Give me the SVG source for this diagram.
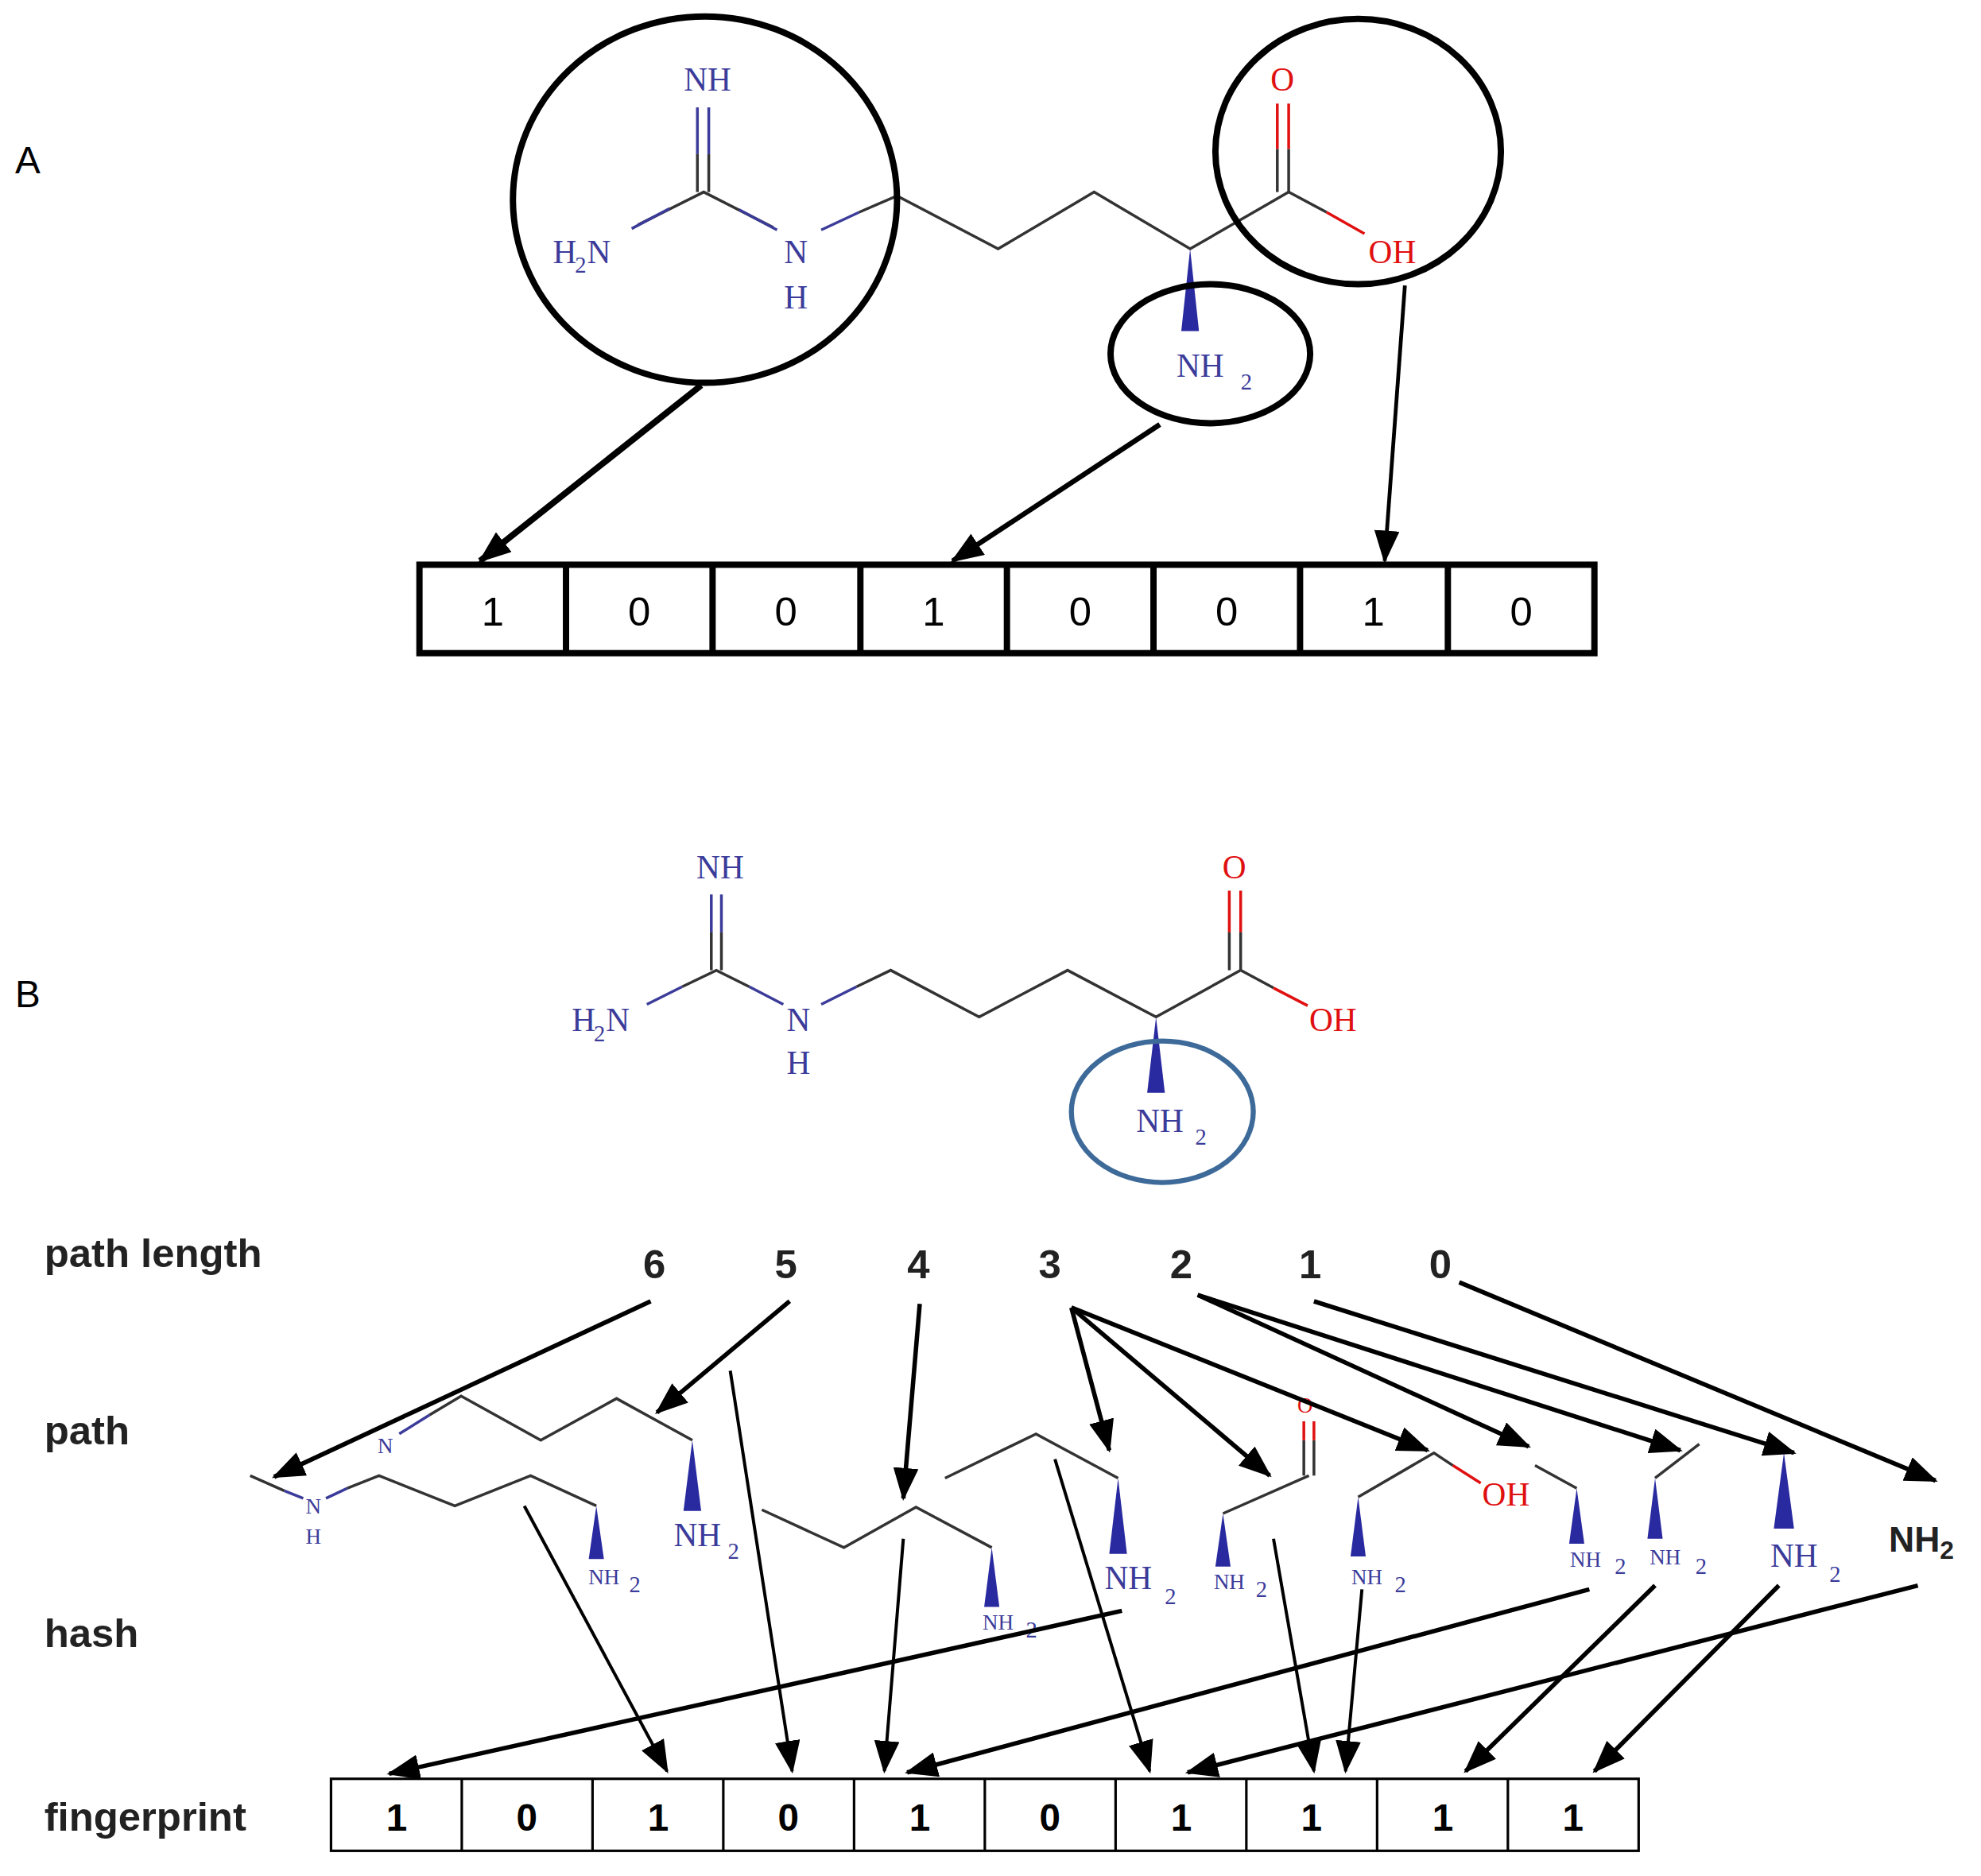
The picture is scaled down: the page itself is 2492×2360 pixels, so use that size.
<svg xmlns="http://www.w3.org/2000/svg" width="2492" height="2360" viewBox="0 0 2492 2360">
<defs>
<marker id="ah" markerUnits="userSpaceOnUse" markerWidth="26" markerHeight="20" refX="24" refY="10" orient="auto"><path d="M0,0 L26,10 L0,20 Z" fill="#000"/></marker>
</defs>
<style>
.b{stroke:#333;stroke-width:2.2;fill:none}
.bb{stroke:#3b3b9a;stroke-width:2.2;fill:none}
.br{stroke:#e01010;stroke-width:2.2;fill:none}
.w{fill:#2a2aa0}
.m{font-family:"Liberation Serif",serif;font-size:26px;fill:#3b3b9a;text-anchor:middle}
.ms{font-family:"Liberation Serif",serif;font-size:18px;fill:#3b3b9a}
.r{fill:#e01010}
.sm{font-size:17px}
.lab{font-family:"Liberation Sans",sans-serif;font-size:32px;font-weight:bold;fill:#222}
.cellA{font-family:"Liberation Sans",sans-serif;font-size:32px;fill:#000;text-anchor:middle}
.cellB{font-family:"Liberation Sans",sans-serif;font-size:30px;font-weight:bold;fill:#000;text-anchor:middle}
.a{stroke:#000;fill:none;marker-end:url(#ah)}
.c{stroke:#000;stroke-width:5;fill:none}
</style>
<g transform="scale(1.5893)">
<text x="12" y="137" font-family="Liberation Sans,sans-serif" font-size="30">A</text>
<text x="12" y="797" font-family="Liberation Sans,sans-serif" font-size="30">B</text>

<g id="molA">
<line class="bb" x1="552" y1="85" x2="552" y2="122"/><line class="bb" x1="561" y1="85" x2="561" y2="122"/>
<line class="b" x1="552" y1="122" x2="552" y2="152"/><line class="b" x1="561" y1="122" x2="561" y2="152"/>
<polyline class="b" points="505,178 557,152 612,180"/>
<line class="bb" x1="500" y1="181" x2="530" y2="165"/><line class="bb" x1="585" y1="166" x2="615" y2="182"/>
<polyline class="bb" points="650,182 680,168"/>
<polyline class="b" points="680,168 710,155 790,197 866,152 942,197 1020,152"/>
<line class="br" x1="1011" y1="82" x2="1011" y2="118"/><line class="br" x1="1020" y1="82" x2="1020" y2="118"/>
<line class="b" x1="1011" y1="118" x2="1011" y2="152"/><line class="b" x1="1020" y1="118" x2="1020" y2="152"/>
<line class="b" x1="1020" y1="152" x2="1050" y2="168"/><line class="br" x1="1050" y1="168" x2="1080" y2="185"/>
<polygon class="w" points="942,197 935,262 949,262"/>
<text class="m" x="560" y="72">NH</text>
<text class="m" x="447" y="208">H</text><text class="ms" x="455" y="216">2</text><text class="m" x="474" y="208">N</text>
<text class="m" x="630" y="208">N</text><text class="m" x="630" y="244">H</text>
<text class="m r" x="1015" y="72">O</text>
<text class="m r" x="1102" y="208">OH</text>
<text class="m" x="950" y="298">NH</text><text class="ms" x="982" y="308">2</text>
</g>
<g id="circles">
<ellipse class="c" cx="558" cy="158" rx="152" ry="145"/>
<ellipse class="c" cx="958" cy="280" rx="79" ry="55"/>
<ellipse class="c" cx="1075" cy="120" rx="113" ry="105"/>
</g>
<g id="connA">
<line class="a" stroke-width="5" x1="555" y1="305" x2="380" y2="444"/>
<line class="a" stroke-width="4" x1="918" y1="336" x2="754" y2="444"/>
<line class="a" stroke-width="3" x1="1112" y1="226" x2="1096" y2="444"/>
</g>
<g id="bitsA">
<rect x="332" y="447" width="930" height="70" fill="none" stroke="#000" stroke-width="5"/>
<g stroke="#000" stroke-width="5">
<line x1="448" y1="447" x2="448" y2="517"/><line x1="564" y1="447" x2="564" y2="517"/><line x1="681" y1="447" x2="681" y2="517"/><line x1="797" y1="447" x2="797" y2="517"/><line x1="913" y1="447" x2="913" y2="517"/><line x1="1029" y1="447" x2="1029" y2="517"/><line x1="1146" y1="447" x2="1146" y2="517"/>
</g>
<text class="cellA" x="390" y="495">1</text><text class="cellA" x="506" y="495">0</text><text class="cellA" x="622" y="495">0</text><text class="cellA" x="739" y="495">1</text><text class="cellA" x="855" y="495">0</text><text class="cellA" x="971" y="495">0</text><text class="cellA" x="1087" y="495">1</text><text class="cellA" x="1204" y="495">0</text>
</g>

<g id="molB">
<line class="bb" x1="563" y1="708" x2="563" y2="738"/><line class="bb" x1="571" y1="708" x2="571" y2="738"/>
<line class="b" x1="563" y1="738" x2="563" y2="768"/><line class="b" x1="571" y1="738" x2="571" y2="768"/>
<polyline class="b" points="540,781 567,768 593,781"/>
<line class="bb" x1="512" y1="795" x2="540" y2="781"/><line class="bb" x1="593" y1="781" x2="620" y2="795"/>
<line class="bb" x1="650" y1="795" x2="678" y2="781"/>
<polyline class="b" points="678,781 705,768 775,805 845,768 915,805 982,768"/>
<line class="br" x1="973" y1="705" x2="973" y2="738"/><line class="br" x1="982" y1="705" x2="982" y2="738"/>
<line class="b" x1="973" y1="738" x2="973" y2="768"/><line class="b" x1="982" y1="738" x2="982" y2="768"/>
<line class="b" x1="982" y1="768" x2="1008" y2="782"/><line class="br" x1="1008" y1="782" x2="1035" y2="796"/>
<polygon class="w" points="915,805 908,865 922,865"/>
<text class="m" x="570" y="695">NH</text>
<text class="m" x="462" y="816">H</text><text class="ms" x="470" y="824">2</text><text class="m" x="489" y="816">N</text>
<text class="m" x="632" y="816">N</text><text class="m" x="632" y="850">H</text>
<text class="m r" x="977" y="695">O</text>
<text class="m r" x="1055" y="816">OH</text>
<text class="m" x="918" y="896">NH</text><text class="ms" x="946" y="906">2</text>
<ellipse cx="920" cy="880" rx="72" ry="56" fill="none" stroke="#3d6a99" stroke-width="4"/>
</g>

<g id="labels">
<text class="lab" x="35" y="1003">path length</text>
<text class="lab" x="35" y="1143">path</text>
<text class="lab" x="35" y="1304">hash</text>
<text class="lab" x="35" y="1449">fingerprint</text>
<text class="lab" x="518" y="1012" text-anchor="middle">6</text>
<text class="lab" x="622" y="1012" text-anchor="middle">5</text>
<text class="lab" x="727" y="1012" text-anchor="middle">4</text>
<text class="lab" x="831" y="1012" text-anchor="middle">3</text>
<text class="lab" x="935" y="1012" text-anchor="middle">2</text>
<text class="lab" x="1037" y="1012" text-anchor="middle">1</text>
<text class="lab" x="1140" y="1012" text-anchor="middle">0</text>
</g>

<g id="paths">
<line class="b" x1="198" y1="1168" x2="225" y2="1180"/><line class="bb" x1="225" y1="1180" x2="240" y2="1186"/>
<line class="bb" x1="258" y1="1186" x2="275" y2="1178"/>
<polyline class="b" points="275,1178 300,1168 360,1192 420,1168 472,1192"/>
<polygon class="w" points="472,1192 466,1234 478,1234"/>
<text class="m sm" x="248" y="1198">N</text><text class="m sm" x="248" y="1222">H</text>
<text class="m sm" x="478" y="1254">NH</text><text class="ms" x="498" y="1260" font-size="13">2</text>

<line class="bb" x1="316" y1="1135" x2="340" y2="1120"/>
<polyline class="b" points="340,1120 365,1105 428,1140 488,1107 548,1140"/>
<polygon class="w" points="548,1140 541,1196 555,1196"/>
<text class="m sm" x="305" y="1150">N</text>
<text class="m" x="552" y="1224" font-size="22">NH</text><text class="ms" x="576" y="1234">2</text>

<polyline class="b" points="603,1195 668,1225 725,1193 785,1225"/>
<polygon class="w" points="785,1225 779,1272 791,1272"/>
<text class="m sm" x="790" y="1290">NH</text><text class="ms" x="812" y="1296" font-size="13">2</text>

<polyline class="b" points="748,1170 820,1135 885,1170"/>
<polygon class="w" points="885,1170 878,1230 892,1230"/>
<text class="m" x="893" y="1258" font-size="24">NH</text><text class="ms" x="922" y="1270">2</text>

<polyline class="b" points="968,1198 1036,1168"/>
<line class="b" x1="1032" y1="1168" x2="1032" y2="1140"/><line class="b" x1="1040" y1="1168" x2="1040" y2="1140"/>
<line class="br" x1="1032" y1="1140" x2="1032" y2="1125"/><line class="br" x1="1040" y1="1140" x2="1040" y2="1125"/>
<text class="m r sm" x="1033" y="1118">O</text>
<polygon class="w" points="968,1198 962,1240 974,1240"/>
<text class="m sm" x="973" y="1258">NH</text><text class="ms" x="994" y="1264" font-size="13">2</text>

<polyline class="b" points="1075,1185 1135,1150 1150,1160"/><line class="br" x1="1150" y1="1160" x2="1172" y2="1174"/>
<text class="m r" x="1192" y="1192" font-size="20">OH</text>
<polygon class="w" points="1075,1185 1069,1232 1081,1232"/>
<text class="m sm" x="1082" y="1254">NH</text><text class="ms" x="1104" y="1260" font-size="13">2</text>

<polyline class="b" points="1215,1160 1248,1178"/>
<polygon class="w" points="1248,1178 1242,1222 1254,1222"/>
<text class="m sm" x="1255" y="1240">NH</text><text class="ms" x="1278" y="1246" font-size="13">2</text>

<polyline class="b" points="1345,1143 1310,1170"/>
<polygon class="w" points="1310,1170 1304,1218 1316,1218"/>
<text class="m sm" x="1318" y="1238">NH</text><text class="ms" x="1342" y="1246" font-size="13">2</text>

<polygon class="w" points="1412,1150 1404,1210 1420,1210"/>
<text class="m" x="1420" y="1240" font-size="24">NH</text><text class="ms" x="1448" y="1252">2</text>

<text x="1495" y="1228" font-family="Liberation Sans,sans-serif" font-size="28" font-weight="bold" fill="#222">NH<tspan font-size="20" dy="6">2</tspan></text>
</g>

<g id="connB">
<line class="a" stroke-width="3.5" x1="515" y1="1030" x2="217" y2="1169"/>
<line class="a" stroke-width="3.5" x1="625" y1="1030" x2="520" y2="1118"/>
<line class="a" stroke-width="3.5" x1="728" y1="1032" x2="715" y2="1186"/>
<line class="a" stroke-width="3.5" x1="848" y1="1035" x2="878" y2="1148"/>
<line class="a" stroke-width="3.5" x1="848" y1="1035" x2="1005" y2="1168"/>
<line class="a" stroke-width="3.5" x1="848" y1="1035" x2="1130" y2="1148"/>
<line class="a" stroke-width="3.5" x1="948" y1="1025" x2="1210" y2="1145"/>
<line class="a" stroke-width="3.5" x1="948" y1="1025" x2="1330" y2="1148"/>
<line class="a" stroke-width="3.5" x1="1040" y1="1030" x2="1420" y2="1150"/>
<line class="a" stroke-width="3.5" x1="1155" y1="1015" x2="1532" y2="1172"/>

<line class="a" stroke-width="2.5" x1="415" y1="1192" x2="528" y2="1402"/>
<line class="a" stroke-width="2.5" x1="578" y1="1085" x2="627" y2="1402"/>
<line class="a" stroke-width="2.5" x1="715" y1="1218" x2="700" y2="1402"/>
<line class="a" stroke-width="2.5" x1="835" y1="1155" x2="910" y2="1402"/>
<line class="a" stroke-width="2.5" x1="1008" y1="1218" x2="1040" y2="1402"/>
<line class="a" stroke-width="2.5" x1="1078" y1="1258" x2="1065" y2="1402"/>
<line class="a" stroke-width="3.5" x1="888" y1="1275" x2="308" y2="1404"/>
<line class="a" stroke-width="3.5" x1="1258" y1="1258" x2="718" y2="1403"/>
<line class="a" stroke-width="3.5" x1="1310" y1="1255" x2="1160" y2="1402"/>
<line class="a" stroke-width="3.5" x1="1408" y1="1255" x2="1262" y2="1402"/>
<line class="a" stroke-width="3.5" x1="1518" y1="1255" x2="940" y2="1403"/>
</g>

<g id="bitsB">
<rect x="262" y="1408" width="1035" height="57" fill="none" stroke="#000" stroke-width="2"/>
<g stroke="#000" stroke-width="2">
<line x1="365.5" y1="1408" x2="365.5" y2="1465"/><line x1="469" y1="1408" x2="469" y2="1465"/><line x1="572.5" y1="1408" x2="572.5" y2="1465"/><line x1="676" y1="1408" x2="676" y2="1465"/><line x1="779.5" y1="1408" x2="779.5" y2="1465"/><line x1="883" y1="1408" x2="883" y2="1465"/><line x1="986.5" y1="1408" x2="986.5" y2="1465"/><line x1="1090" y1="1408" x2="1090" y2="1465"/><line x1="1193.5" y1="1408" x2="1193.5" y2="1465"/>
</g>
<text class="cellB" x="314" y="1449">1</text><text class="cellB" x="417" y="1449">0</text><text class="cellB" x="521" y="1449">1</text><text class="cellB" x="624" y="1449">0</text><text class="cellB" x="728" y="1449">1</text><text class="cellB" x="831" y="1449">0</text><text class="cellB" x="935" y="1449">1</text><text class="cellB" x="1038" y="1449">1</text><text class="cellB" x="1142" y="1449">1</text><text class="cellB" x="1245" y="1449">1</text>
</g>
</g>
</svg>
